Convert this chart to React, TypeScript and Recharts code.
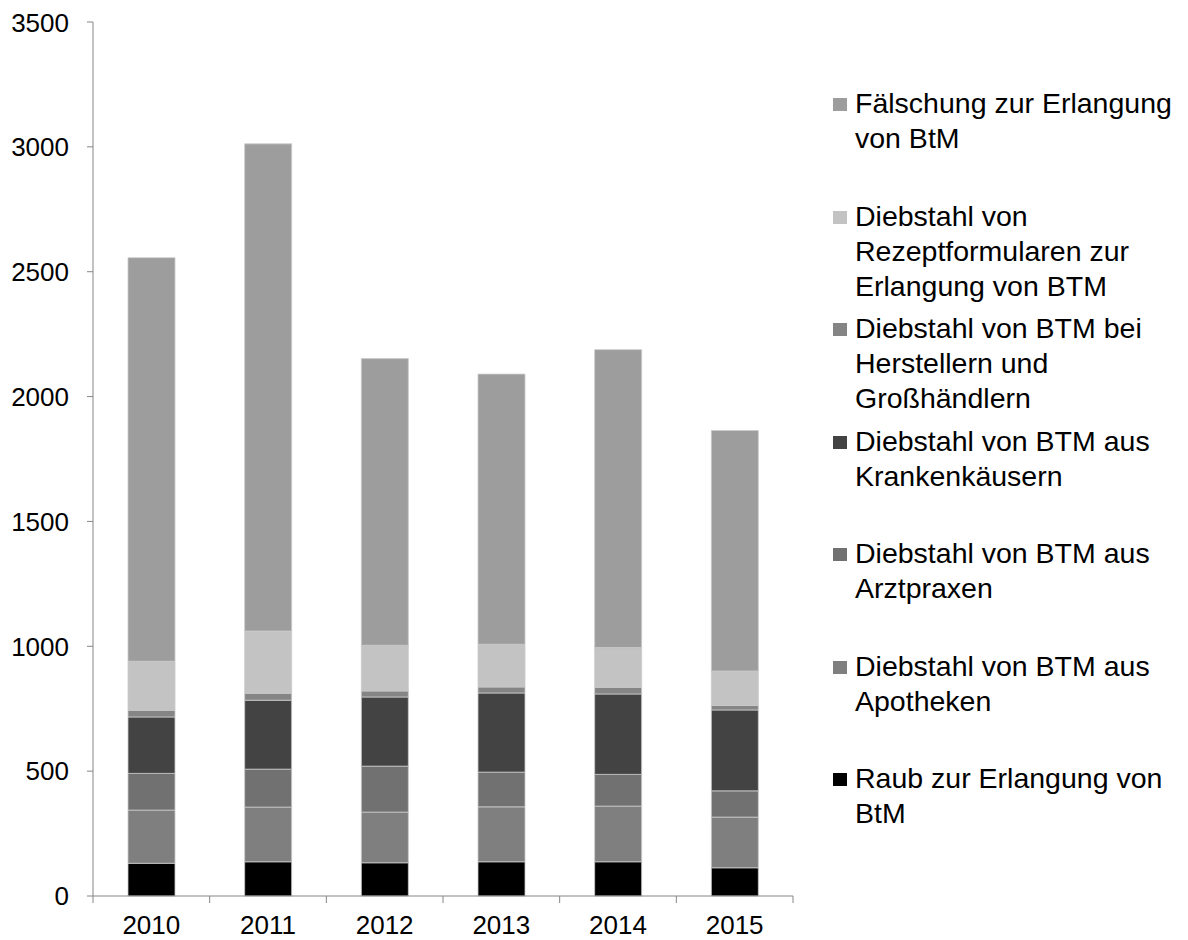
import { BarChart, Bar, XAxis, YAxis, Legend } from "recharts";

const years = ["2010", "2011", "2012", "2013", "2014", "2015"];
const raub = [131, 137, 133, 137, 137, 113];
const apotheken = [213, 219, 203, 220, 223, 203];
const arztpraxen = [147, 152, 184, 139, 127, 105];
const krankenhaeuser = [226, 276, 277, 317, 322, 324];
const hersteller = [27, 28, 24, 24, 27, 18];
const rezeptformulare = [196, 249, 183, 171, 159, 138];
const faelschung = [1616, 1951, 1148, 1082, 1193, 963];
const yTicks = [0, 500, 1000, 1500, 2000, 2500, 3000, 3500];

// stacking order, bottom to top
const series = [
  { key: "raub", values: raub, color: "#000000", label: ["Raub zur Erlangung von", "BtM"] },
  { key: "apotheken", values: apotheken, color: "#7f7f7f", label: ["Diebstahl von BTM aus", "Apotheken"] },
  { key: "arztpraxen", values: arztpraxen, color: "#717171", label: ["Diebstahl von BTM aus", "Arztpraxen"] },
  { key: "krankenhaeuser", values: krankenhaeuser, color: "#434343", label: ["Diebstahl von BTM aus", "Krankenkäusern"] },
  { key: "hersteller", values: hersteller, color: "#858585", label: ["Diebstahl von BTM bei", "Herstellern und", "Großhändlern"] },
  { key: "rezept", values: rezeptformulare, color: "#c3c3c3", label: ["Diebstahl von", "Rezeptformularen zur", "Erlangung von BTM"] },
  { key: "faelschung", values: faelschung, color: "#9d9d9d", label: ["Fälschung zur Erlangung", "von BtM"] },
];

const data = years.map((year, i) => {
  const row: Record<string, string | number> = { year };
  series.forEach((s) => (row[s.key] = s.values[i]));
  return row;
});

const FONT = '"Liberation Sans", Arial, sans-serif';
const AXIS = "#868686";

function YearTick(props: any) {
  const { x, y, payload, index, visibleTicksCount } = props;
  const off = payload.offset ?? 0;
  return (
    <g>
      <line x1={x - off} x2={x - off} y1={y} y2={y + 7} stroke={AXIS} />
      {index === visibleTicksCount - 1 && (
        <line x1={x + off} x2={x + off} y1={y} y2={y + 7} stroke={AXIS} />
      )}
      <text x={x} y={y + 29} textAnchor="middle" dominantBaseline="central" fontSize={26} fill="#000" fontFamily={FONT}>
        {payload.value}
      </text>
    </g>
  );
}

function SideLegend() {
  const items = [...series].reverse();
  return (
    <div style={{ fontFamily: FONT, fontSize: 28.5, color: "#000" }}>
      {items.map((s) => (
        <div key={s.key} style={{ height: 112.5, display: "flex", alignItems: "flex-start" }}>
          <div style={{ width: 14, height: 13, background: s.color, marginTop: 12, marginRight: 8, flexShrink: 0 }} />
          <div style={{ lineHeight: "35px", whiteSpace: "nowrap" }}>
            {s.label.map((line, i) => (
              <div key={i}>{line}</div>
            ))}
          </div>
        </div>
      ))}
    </div>
  );
}

export default function App() {
  return (
    <div style={{ width: 1180, height: 932, position: "relative" }}>
      <BarChart
        width={1180}
        height={932}
        data={data}
        margin={{ top: 14, right: 395, left: 0, bottom: 0 }}
        style={{ fontFamily: FONT }}
      >
        <XAxis
          dataKey="year"
          height={44}
          stroke={AXIS}
          tickLine={false}
          tickSize={0}
          tickMargin={0}
          tick={<YearTick />}
          interval={0}
        />
        <YAxis
          width={85}
          domain={[0, 3500]}
          ticks={yTicks}
          stroke={AXIS}
          tickSize={6}
          tickMargin={18}
          tick={{ fontSize: 26, fill: "#000", fontFamily: FONT }}
        />
        {series.map((s) => (
          <Bar
            key={s.key}
            dataKey={s.key}
            stackId="a"
            fill={s.color}
            stroke="#c9c9c9"
            strokeWidth={0.8}
            barSize={47}
            isAnimationActive={false}
          />
        ))}
        <Legend
          layout="horizontal"
          verticalAlign="middle"
          align="center"
          content={<SideLegend />}
          wrapperStyle={{ top: 78, left: 825, width: 355, height: 800 }}
        />
      </BarChart>
    </div>
  );
}
